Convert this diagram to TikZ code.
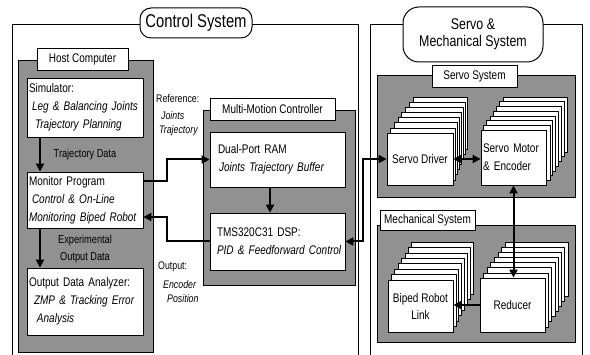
\documentclass[tikz,border=0pt]{standalone}
\usepackage{fontspec}
\setmainfont{Liberation Sans}[FakeStretch=0.8]
\usetikzlibrary{arrows.meta}
\newcommand\boxstack[7]{%
  \foreach \k in {7,6,...,1}{%
    \draw[line width=0.7pt, fill=white] ({#1+#5*\k},{#2-#7*\k}) rectangle ({#3+#6*\k},{#4-#7*\k});
  }}
\begin{document}
\begin{tikzpicture}[x=1pt,y=-1pt,
  shadebox/.style={draw, line width=0.8pt, fill=black!43},
  wbox/.style={draw, line width=0.8pt, fill=white, inner sep=2pt},
  tab/.style={wbox, font=\fontsize{12.5}{14}\selectfont, inner sep=1pt},
  lbox/.style={wbox, align=left, font=\fontsize{12.5}{18}\selectfont},
  cbox/.style={wbox, align=center, font=\fontsize{12.5}{17}\selectfont},
  lbl/.style={inner sep=1pt, font=\fontsize{11}{13}\selectfont},
  arr/.style={line width=2pt, -{Triangle[length=8pt,width=8pt]}, line join=miter},
  arrb/.style={line width=2pt, {Triangle[length=8pt,width=8pt]}-{Triangle[length=8pt,width=8pt]}, line join=miter},
  outer/.style={line width=1pt}
]
\useasboundingbox (0,0) rectangle (590,355);
% outer system frames
\draw[outer] (12,365) -- (12,25) -- (358,25) -- (358,365);
\draw[outer] (370,365) -- (370,25) -- (582,25) -- (582,365);
\node[draw, line width=1pt, fill=white, rounded corners=11pt, minimum width=112pt, minimum height=30pt,
      font=\fontsize{18.5}{20}\selectfont] (ctitle) at (196,23) {Control System};
\node[draw, line width=1pt, fill=white, rounded corners=16pt, minimum width=140pt, minimum height=55pt,
      align=center, font=\fontsize{15.5}{17}\selectfont] (stitle) at (473,34.5) {Servo \&\\Mechanical System};
% shaded groups
\draw[shadebox] (18,60) rectangle (153,352);
\draw[shadebox] (203,110) rectangle (355,285);
\draw[shadebox] (377,75) rectangle (575,197);
\draw[shadebox] (377,225) rectangle (575,342);
% tabs
\node[tab, minimum width=91pt, minimum height=22pt] (htab) at (82.5,59) {Host Computer};
\node[tab, minimum width=125pt, minimum height=22pt] (mtab) at (272.5,109) {Multi-Motion Controller};
\node[tab, minimum width=85pt, minimum height=22pt] (stab) at (474.5,76) {Servo System};
\node[tab, minimum width=95pt, minimum height=20pt] (ktab) at (427.5,220) {Mechanical System};
% host computer boxes
\node[lbox, text width=112pt, minimum height=59pt] (sim) at (85,107.5)
  {Simulator:\\\hspace*{3pt}\textit{Leg \& Balancing Joints}\\\hspace*{6pt}\textit{Trajectory Planning}};
\node[lbox, text width=112pt, minimum height=56pt] (mon) at (85,200)
  {Monitor Program\\\hspace*{3pt}\textit{Control \& On-Line}\\\textit{Monitoring Biped Robot}};
\node[lbox, text width=112pt, minimum height=67pt] (out) at (85,301.5)
  {Output Data Analyzer:\\\hspace*{5pt}\textit{ZMP \& Tracking Error}\\\hspace*{8pt}\textit{Analysis}};
% multi-motion controller boxes
\node[lbox, text width=131pt, minimum height=55pt] (ram) at (277.5,159.5)
  {\hspace*{6pt}Dual-Port RAM\\\hspace*{7pt}\textit{Joints Trajectory Buffer}};
\node[lbox, text width=131pt, minimum height=57pt] (dsp) at (277.5,241.5)
  {\hspace*{5pt}TMS320C31 DSP:\\\hspace*{5pt}\textit{PID \& Feedforward Control}};
% stacks
\boxstack{387}{133}{453}{185}{3.7}{2}{5.1}
\node[cbox, minimum width=66pt, minimum height=52pt] (drv) at (420,159) {Servo Driver};
\boxstack{480}{130}{547}{185}{3.3}{2.9}{4.7}
\node[lbox, text width=61pt, minimum height=55pt] (mot) at (513.5,157.5) {Servo Motor\\\& Encoder};
\boxstack{388}{280}{453}{332}{3.4}{2.9}{5.4}
\node[cbox, minimum width=65pt, minimum height=52pt] (link) at (420.5,306) {Biped Robot\\Link};
\boxstack{480}{278}{545}{332}{3.6}{3.3}{5.1}
\node[cbox, minimum width=65pt, minimum height=54pt] (red) at (512.5,305) {Reducer};
% labels
\node[lbl, font=\fontsize{11.5}{13}\selectfont] (ltd) at (85,155) {Trajectory Data};
\node[lbl, font=\fontsize{11.5}{13}\selectfont] (lexp) at (85,241) {Experimental};
\node[lbl, font=\fontsize{11.5}{13}\selectfont] (lod) at (85,258) {Output Data};
\node[lbl, anchor=west] (lref) at (155,99) {Reference:};
\node[lbl, anchor=west] (ljo) at (160,116) {\textit{Joints}};
\node[lbl, anchor=west] (ltr) at (158,131) {\textit{Trajectory}};
\node[lbl, anchor=west] (lout) at (157,267) {Output:};
\node[lbl, anchor=west] (lenc) at (162,285) {\textit{Encoder}};
\node[lbl, anchor=west] (lpos) at (166,299) {\textit{Position}};
% helper coordinates
\coordinate (ax) at (40,0);
\coordinate (vx) at (167,0);
\coordinate (wx) at (363,0);
\coordinate (rx) at (270,0);
\coordinate (ya) at (0,181);
\coordinate (yb) at (0,217);
% connectors
\draw[arr] (ax|-sim.south) -- (ax|-mon.north);
\draw[arr] (ax|-mon.south) -- (ax|-out.north);
\draw[arr] (mon.east|-ya) -- (vx|-ya) -- (vx|-ram.west) -- (ram.west);
\draw[arr] (dsp.west) -- (vx|-dsp.west) -- (vx|-yb) -- (mon.east|-yb);
\draw[arr] (rx|-ram.south) -- (rx|-dsp.north);
\draw[arrb] (dsp.east) -- (wx|-dsp.east) -- (wx|-drv.west) -- (drv.west);
\draw[arrb] (drv.east) -- (drv.east-|mot.west);
\draw[arrb] (mot.south) -- (mot.south|-red.north);
\draw[arr] (red.west) -- (red.west-|link.east);
\end{tikzpicture}
\end{document}
